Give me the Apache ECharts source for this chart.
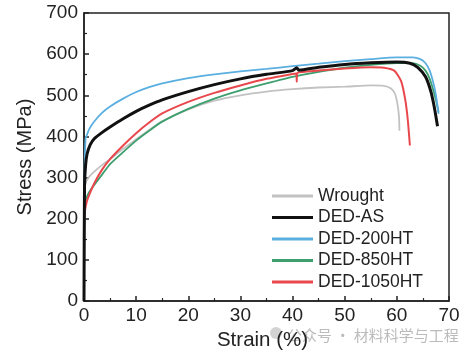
<!DOCTYPE html>
<html>
<head>
<meta charset="utf-8">
<script src="https://cdn.jsdelivr.net/npm/echarts@6/dist/echarts.min.js"></script>
<style>
html,body{margin:0;padding:0;background:#fff;}
#chart{width:464px;height:356px;}
</style>
</head>
<body>
<div id="chart"></div>
<script>
// Data
var seriesNames = ['Wrought', 'DED-AS', 'DED-200HT', 'DED-850HT', 'DED-1050HT'];

var wroughtStrain = [0, 0.05, 0.6, 2, 3.8, 5, 7.5, 10, 12.5, 15, 20, 25, 30, 35, 40, 45, 50, 55, 57.5, 58.8, 59.6, 60.1, 60.4, 60.5];
var wroughtStress = [0, 270, 295, 315, 334, 345, 370, 393, 416, 437, 466, 487, 500, 509, 515, 519, 521, 524, 523, 517, 505, 480, 450, 414];

var asStrain = [0, 0.1, 0.3, 0.6, 1.2, 2, 3.5, 5, 7.5, 10, 12.5, 15, 20, 25, 30, 35, 40, 40.8, 41.2, 45, 50, 55, 60, 62.5, 64, 65.5, 66.5, 67.2, 67.8];
var asStress = [0, 280, 330, 358, 380, 395, 410, 423, 443, 461, 476, 489, 509, 526, 540, 551, 560, 567, 561, 568, 575, 579, 581, 578, 568, 545, 510, 470, 425];

var ht200Strain = [0, 0.1, 0.3, 0.6, 1, 2, 3.5, 5, 7.5, 10, 12.5, 15, 20, 25, 30, 35, 40, 45, 50, 55, 60, 63, 64.5, 65.5, 66.3, 67, 67.5, 68];
var ht200Stress = [0, 300, 395, 405, 418, 437, 458, 473, 492, 508, 520, 529, 542, 551, 558, 564, 571, 577, 583, 588, 592, 592, 588, 578, 560, 530, 500, 455];

var ht850Strain = [0, 0.05, 0.5, 1, 2, 3.5, 5, 7.5, 10, 12.5, 15, 20, 25, 30, 35, 40, 45, 50, 55, 60, 63, 64.5, 65.5, 66.3, 67, 67.5, 68];
var ht850Stress = [0, 235, 252, 265, 283, 308, 333, 362, 390, 414, 436, 467, 492, 512, 529, 545, 557, 567, 574, 578, 578, 572, 560, 540, 512, 488, 460];

var ht1050Strain = [0, 0.05, 0.5, 1, 2, 3.5, 5, 7.5, 10, 12.5, 15, 20, 25, 30, 35, 40, 40.7, 40.8, 40.9, 45, 50, 55, 57.5, 59.5, 60.8, 61.6, 62.1, 62.5];
var ht1050Stress = [0, 205, 240, 258, 287, 320, 345, 378, 408, 434, 456, 484, 506, 524, 540, 552, 553, 533, 554, 560, 565, 568, 567, 560, 535, 490, 440, 378];

var xTicks = [0, 10, 20, 30, 40, 50, 60, 70];
var yTicks = [0, 100, 200, 300, 400, 500, 600, 700];

function pairs(xs, ys) {
  var out = [];
  for (var i = 0; i < xs.length; i++) out.push([xs[i], ys[i]]);
  return out;
}

var FONT = '"Liberation Sans", Arial, sans-serif';
var chart = echarts.init(document.getElementById('chart'), null, {renderer: 'canvas'});

function lineSeries(name, data, color, width, z) {
  return {
    name: name,
    type: 'line',
    data: data,
    showSymbol: false,
    symbol: 'none',
    smooth: 0.2,
    z: z,
    color: color,
    lineStyle: {color: color, width: width},
    emphasis: {disabled: true},
    animation: false
  };
}

chart.setOption({
  animation: false,
  backgroundColor: '#fff',
  grid: {
    left: 84, right: 15, top: 13, bottom: 49,
    show: true, borderColor: '#222', borderWidth: 1.5, backgroundColor: 'transparent'
  },
  legend: {
    data: seriesNames,
    orient: 'vertical',
    left: 267,
    top: 182,
    icon: 'rect',
    itemWidth: 41,
    itemHeight: 3,
    itemGap: 3.5,
    textStyle: {fontFamily: FONT, fontSize: 17.5, color: '#222', lineHeight: 18},
    selectedMode: false
  },
  xAxis: {
    type: 'value',
    min: xTicks[0],
    max: xTicks[xTicks.length - 1],
    interval: 10,
    name: 'Strain (%)',
    nameLocation: 'middle',
    nameGap: 22,
    nameTextStyle: {fontFamily: FONT, fontSize: 20.5, color: '#222', padding: [0, 8, 0, 0]},
    axisLine: {show: true, onZero: false, lineStyle: {color: '#222', width: 1.5}},
    axisTick: {show: true, inside: true, length: 5, lineStyle: {color: '#222', width: 1.5}},
    minorTick: {show: true, splitNumber: 2, length: 3, lineStyle: {color: '#222', width: 1.2}},
    axisLabel: {fontFamily: FONT, fontSize: 19, color: '#222', margin: 5},
    splitLine: {show: false}
  },
  yAxis: {
    type: 'value',
    min: yTicks[0],
    max: yTicks[yTicks.length - 1],
    interval: 100,
    name: 'Stress (MPa)',
    nameLocation: 'middle',
    nameRotate: 90,
    nameGap: 42,
    nameTextStyle: {fontFamily: FONT, fontSize: 20, color: '#222'},
    axisLine: {show: true, onZero: false, lineStyle: {color: '#222', width: 1.5}},
    axisTick: {show: true, inside: true, length: 5, lineStyle: {color: '#222', width: 1.5}},
    minorTick: {show: true, splitNumber: 2, length: 3, lineStyle: {color: '#222', width: 1.2}},
    axisLabel: {fontFamily: FONT, fontSize: 19, color: '#222', margin: 6},
    splitLine: {show: false}
  },
  series: [
    lineSeries('Wrought', pairs(wroughtStrain, wroughtStress), '#c2c2c2', 1.8, 2),
    lineSeries('DED-850HT', pairs(ht850Strain, ht850Stress), '#3c9f6d', 1.8, 3),
    lineSeries('DED-1050HT', pairs(ht1050Strain, ht1050Stress), '#e8474c', 2, 4),
    lineSeries('DED-200HT', pairs(ht200Strain, ht200Stress), '#5aafe0', 1.8, 5),
    lineSeries('DED-AS', pairs(asStrain, asStress), '#111111', 3, 6)
  ],
  graphic: [
    {type: 'circle', left: 270, top: 327, shape: {r: 6}, style: {fill: '#c8c8c8', opacity: 0.8}, silent: true},
    {type: 'text', left: 287, top: 328, style: {text: '公众号 · 材料科学与工程', font: '15px "Noto Sans CJK SC", sans-serif', fill: '#b4b4b4', opacity: 0.9}, silent: true}
  ]
});
</script>
</body>
</html>
